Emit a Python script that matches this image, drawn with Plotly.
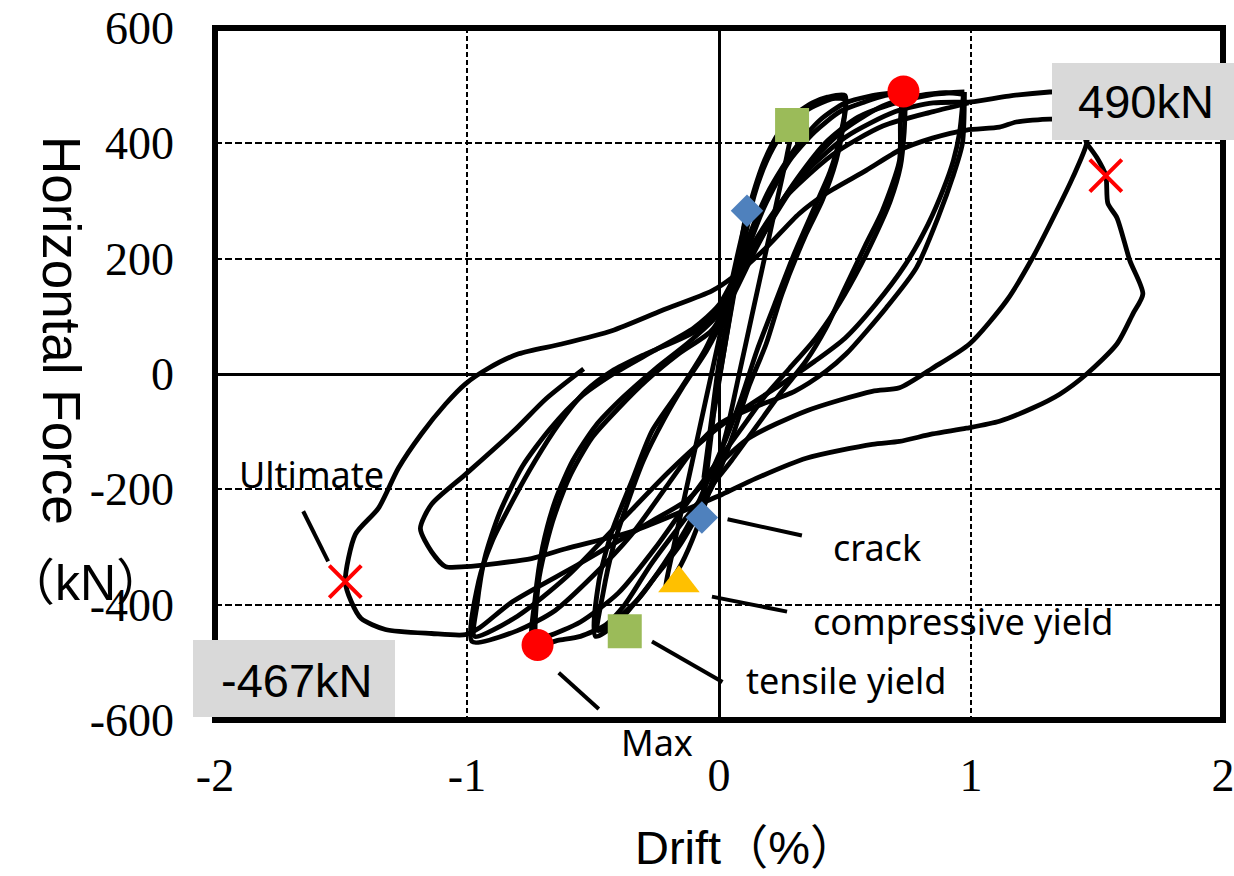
import plotly.graph_objects as go

# ---------------- axis ticks ----------------
x_ticks = [-2, -1, 0, 1, 2]
x_ticktext = ["-2", "-1", "0", "1", "2"]
y_ticks = [-600, -400, -200, 0, 200, 400, 600]
y_ticktext = ["-600", "-400", "-200", "0", "200", "400", "600"]

# ---------------- hysteresis record (drift %, force kN) ----------------
small_x = [0.00, 0.03, 0.06, 0.09, 0.11, 0.08, 0.04, 0.00, -0.03, -0.06, -0.04, -0.01, 0.02, 0.05, 0.08, 0.10, 0.07, 0.03, -0.01, -0.04, -0.07]
small_y = [0, 70, 150, 220, 283, 200, 110, 20, -80, -180, -120, -40, 40, 120, 200, 260, 180, 80, -30, -140, -249]

cyc025_x = [-0.07, -0.05, -0.02, 0.02, 0.06, 0.10, 0.14, 0.19, 0.24, 0.29, 0.27, 0.23, 0.18, 0.13, 0.08, 0.03, -0.03, -0.09, -0.15, -0.21, -0.18, -0.13, -0.08, -0.03, 0.02, 0.07, 0.12, 0.18, 0.24, 0.30]
cyc025_y = [-249, -160, -60, 40, 140, 230, 310, 370, 410, 433, 380, 300, 200, 100, 0, -100, -190, -270, -330, -370, -300, -200, -100, 0, 100, 200, 290, 370, 420, 450]

cyc050_x = [0.30, 0.37, 0.43, 0.50, 0.49, 0.465, 0.41, 0.346, 0.25, 0.187, 0.12, 0.06, 0.00, -0.08, -0.16, -0.25, -0.33, -0.40, -0.49, -0.477, -0.425, -0.346, -0.266, -0.159, -0.052, 0.04, 0.12, 0.20, 0.30, 0.40, 0.50, 0.60, 0.73]
cyc050_y = [450, 470, 480, 483, 423, 370, 301, 243, 139, 52, -20, -100, -170, -240, -300, -350, -395, -430, -455, -360, -273, -186, -99, -30, 45, 140, 240, 320, 390, 440, 470, 482, 490]

cyc050b_x = [0.30, 0.38, 0.46, 0.50, 0.48, 0.44, 0.38, 0.30, 0.22, 0.15, 0.09, 0.03, -0.04, -0.12, -0.22, -0.32, -0.42, -0.48, -0.46, -0.42, -0.36, -0.30, -0.22, -0.14, -0.05, 0.02, 0.10, 0.18, 0.28, 0.38, 0.48, 0.58, 0.66, 0.73]
cyc050b_y = [445, 465, 478, 475, 410, 350, 290, 210, 120, 40, -40, -110, -180, -260, -330, -390, -430, -445, -380, -300, -220, -150, -80, -20, 40, 100, 200, 290, 370, 420, 455, 472, 483, 488]

cyc075_x = [0.73, 0.72, 0.716, 0.648, 0.584, 0.489, 0.425, 0.346, 0.25, 0.15, 0.05, -0.05, -0.15, -0.27, -0.374, -0.45, -0.55, -0.64, -0.72, -0.716, -0.664, -0.596, -0.505, -0.398, -0.29, -0.16, -0.03, 0.06, 0.15, 0.28, 0.42, 0.55, 0.70, 0.85, 0.974]
cyc075_y = [490, 440, 370, 283, 226, 139, 80, 23, -30, -90, -150, -205, -260, -330, -400, -435, -455, -462, -470, -360, -261, -181, -111, -59, -12, 35, 75, 140, 220, 320, 400, 445, 470, 485, 489]

cyc075b_x = [0.74, 0.735, 0.72, 0.68, 0.62, 0.54, 0.46, 0.38, 0.28, 0.18, 0.08, -0.02, -0.12, -0.25, -0.40, -0.55, -0.68, -0.74, -0.73, -0.70, -0.65, -0.58, -0.49, -0.38, -0.25, -0.12, -0.01, 0.08, 0.20, 0.35, 0.50, 0.65, 0.78, 0.90, 0.97]
cyc075b_y = [482, 420, 360, 300, 240, 170, 110, 60, 10, -40, -100, -160, -220, -300, -380, -430, -455, -462, -390, -300, -220, -150, -90, -40, 10, 55, 100, 170, 260, 360, 425, 465, 482, 488, 485]

cyc100_x = [0.974, 0.966, 0.927, 0.875, 0.783, 0.664, 0.505, 0.425, 0.30, 0.131, 0.00, -0.10, -0.20, -0.35, -0.50, -0.65, -0.80, -0.98, -0.954, -0.90, -0.82, -0.73, -0.636, -0.53, -0.425, -0.29, -0.09, 0.03, 0.15, 0.30, 0.50, 0.70, 0.85, 1.00, 1.15, 1.312, 1.45]
cyc100_y = [489, 400, 341, 278, 184, 115, 35, 5, -30, -59, -87, -130, -190, -280, -350, -410, -445, -464, -360, -290, -221, -151, -87, -30, 5, 35, 75, 130, 230, 330, 410, 455, 470, 472, 482, 489, 492]

cyc100b_x = [0.97, 0.955, 0.93, 0.89, 0.83, 0.74, 0.62, 0.50, 0.38, 0.24, 0.10, -0.05, -0.20, -0.40, -0.60, -0.80, -0.97, -0.96, -0.93, -0.87, -0.78, -0.67, -0.55, -0.42, -0.26, -0.10, 0.00, 0.10, 0.25, 0.45, 0.65, 0.85, 0.99]
cyc100b_y = [485, 420, 370, 320, 260, 190, 120, 62, 22, -20, -60, -110, -170, -260, -350, -420, -455, -400, -320, -240, -160, -95, -40, 0, 40, 80, 120, 200, 300, 380, 430, 455, 470]

cyc150_x = [1.45, 1.46, 1.459, 1.404, 1.34, 1.245, 1.141, 0.994, 0.847, 0.716, 0.608, 0.346, 0.119, 0.00, -0.119, -0.27, -0.557, -0.82, -0.95, -1.006, -1.141, -1.324, -1.42, -1.459, -1.483, -1.443, -1.352, -1.272, -1.181, -1.085, -1.006, -0.915, -0.795, -0.624, -0.425, -0.227, -0.028, 0.052, 0.187, 0.318, 0.425, 0.584, 0.716, 0.847, 0.982, 1.113, 1.18, 1.312, 1.42, 1.459]
cyc150_y = [492, 450, 400, 341, 283, 202, 127, 52, 10, -24, -30, -64, -111, -157, -216, -256, -330, -395, -440, -452, -450, -443, -424, -395, -360, -278, -233, -163, -104, -52, -17, 10, 35, 52, 75, 110, 144, 167, 219, 278, 313, 353, 388, 409, 423, 428, 437, 442, 440, 400]

final_x = [1.459, 1.50, 1.535, 1.543, 1.579, 1.63, 1.682, 1.642, 1.579, 1.459, 1.352, 1.245, 1.113, 0.982, 0.847, 0.716, 0.608, 0.346, 0.147, 0.012, -0.08, -0.211, -0.346, -0.608, -0.744, -1.006, -1.085, -1.141, -1.185, -1.141, -1.006, -0.815, -0.684, -0.537]
final_y = [400, 375, 344, 296, 271, 197, 139, 104, 52, 0, -35, -59, -82, -94, -104, -117, -122, -146, -181, -209, -226, -250, -273, -303, -320, -334, -334, -308, -268, -226, -174, -99, -42, 9]

# ---------------- characteristic points ----------------
crack_x, crack_y = [0.111, -0.068], [283, -249]
tensile_x, tensile_y = [0.29, -0.374], [432, -446]
comp_x, comp_y = [-0.159], [-363]
max_x, max_y = [0.732, -0.72], [490, -470]
ult_x, ult_y = [1.535, -1.483], [344, -360]
edge_x, edge_y = [2.15], [184]

# pointer lines (drift, force) pairs
pointer_lines = [
    ((-1.650, -238), (-1.551, -325)),   # Ultimate
    ((0.034, -252), (0.329, -280)),     # crack
    ((-0.028, -386), (0.270, -412)),    # compressive yield
    ((-0.266, -464), (0.014, -534)),    # tensile yield
    ((-0.636, -518), (-0.477, -581)),   # Max
]

# ---------------- geometry helpers (pixel -> paper) ----------------
L, R, T, B = 215, 1223, 28, 720
def px(x):
    return (x - L) / (R - L)
def py(y):
    return (B - y) / (B - T)

fig = go.Figure()

segments = [(small_x, small_y), (cyc025_x, cyc025_y), (cyc050_x, cyc050_y), (cyc050b_x, cyc050b_y),
            (cyc075_x, cyc075_y), (cyc075b_x, cyc075b_y), (cyc100_x, cyc100_y), (cyc100b_x, cyc100b_y),
            (cyc150_x, cyc150_y), (final_x, final_y)]
for sx, sy in segments:
    fig.add_trace(go.Scatter(x=sx, y=sy, mode="lines",
                             line=dict(color="black", width=4.8, shape="spline", smoothing=0.7),
                             hoverinfo="skip", showlegend=False))

fig.add_trace(go.Scatter(x=crack_x, y=crack_y, mode="markers",
                         marker=dict(symbol="diamond", size=25, color="#4f81bd"), showlegend=False))
fig.add_trace(go.Scatter(x=tensile_x, y=tensile_y, mode="markers",
                         marker=dict(symbol="square", size=34, color="#9bbb59"), showlegend=False))
fig.add_trace(go.Scatter(x=comp_x, y=comp_y, mode="markers",
                         marker=dict(symbol="triangle-up", size=36, color="#ffc000"), showlegend=False))
fig.add_trace(go.Scatter(x=max_x, y=max_y, mode="markers",
                         marker=dict(symbol="circle", size=32, color="#ff0000"), showlegend=False))
fig.add_trace(go.Scatter(x=ult_x, y=ult_y, mode="markers",
                         marker=dict(symbol="x-thin", size=32, color="#ff0000",
                                     line=dict(color="#ff0000", width=4)), showlegend=False))
fig.add_trace(go.Scatter(x=edge_x, y=edge_y, mode="markers", cliponaxis=False,
                         marker=dict(symbol="circle", size=50, color="#f5a623"), showlegend=False))

shapes = []
shapes.append(dict(type="rect", xref="paper", yref="paper", x0=0, x1=1, y0=0, y1=1,
                   line=dict(color="black", width=6), layer="above"))
shapes.append(dict(type="rect", xref="paper", yref="paper", x0=px(1052), x1=px(1250), y0=py(140), y1=py(63),
                   fillcolor="#d9d9d9", line=dict(width=0), layer="above"))
shapes.append(dict(type="rect", xref="paper", yref="paper", x0=px(193), x1=px(395), y0=py(717), y1=py(640),
                   fillcolor="#d9d9d9", line=dict(width=0), layer="above"))
for (x0, y0), (x1, y1) in pointer_lines:
    shapes.append(dict(type="line", xref="x", yref="y", x0=x0, y0=y0, x1=x1, y1=y1,
                       line=dict(color="black", width=4), layer="above"))

lbl = dict(family="Noto Sans", size=36, color="black")
big = dict(family="Liberation Sans, Noto Sans CJK JP", size=47, color="black")
annotations = [
    dict(text="Ultimate", x=px(311), y=py(475), font=lbl),
    dict(text="crack", x=px(877), y=py(547), font=lbl),
    dict(text="compressive yield", x=px(963), y=py(621), font=lbl),
    dict(text="tensile yield", x=px(846), y=py(680), font=lbl),
    dict(text="Max", x=px(657), y=py(742), font=lbl),
    dict(text="490kN", x=px(1146), y=py(102), font=big),
    dict(text="-467kN", x=px(297), y=py(680), font=big),
    dict(text="Horizontal Force", x=px(62), y=py(330), textangle=90,
         font=dict(family="Liberation Sans", size=53, color="black")),
    dict(text="（kN）", x=px(3), y=py(583), xanchor="left",
         font=dict(family="Liberation Sans, Noto Sans CJK JP", size=50, color="black")),
    dict(text="Drift（%）", x=px(633), y=py(847), xanchor="left",
         font=dict(family="Liberation Sans, Noto Sans CJK JP", size=47, color="black")),
]
for a in annotations:
    a.setdefault("xanchor", "center")
    a.update(xref="paper", yref="paper", yanchor="middle", showarrow=False)

tickfont = dict(family="Liberation Serif", size=46, color="black")
fig.update_layout(
    width=1234, height=876, autosize=False,
    margin=dict(l=L, r=1234 - R, t=T, b=876 - B, pad=0, autoexpand=False),
    paper_bgcolor="white", plot_bgcolor="white",
    showlegend=False,
    shapes=shapes, annotations=annotations,
    xaxis=dict(range=[-2, 2], tickvals=x_ticks, ticktext=x_ticktext, tickfont=tickfont,
               ticks="", ticklabelstandoff=24, showline=False, automargin=False,
               ticklabeloverflow="allow",
               showgrid=True, gridcolor="black", gridwidth=2, griddash="5px,3px",
               zeroline=True, zerolinecolor="black", zerolinewidth=2.5, fixedrange=True),
    yaxis=dict(range=[-600, 600], tickvals=y_ticks, ticktext=y_ticktext, tickfont=tickfont,
               ticks="", ticklabelstandoff=40, showline=False, automargin=False,
               ticklabeloverflow="allow",
               showgrid=True, gridcolor="black", gridwidth=2, griddash="7px,3px",
               zeroline=True, zerolinecolor="black", zerolinewidth=2.5, fixedrange=True),
)

fig.write_html("out.html")
